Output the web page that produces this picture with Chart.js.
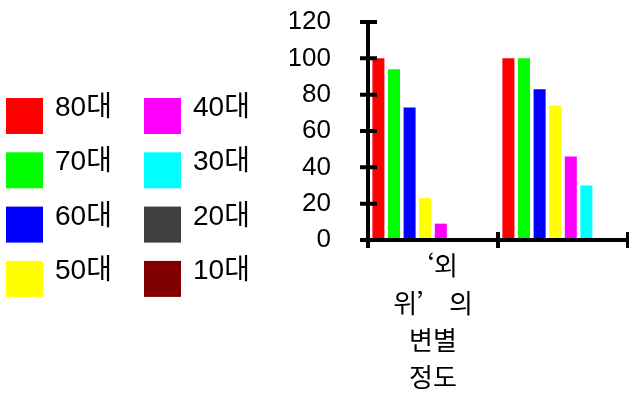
<!DOCTYPE html>
<html><head><meta charset="utf-8">
<script src="https://cdn.jsdelivr.net/npm/chart.js@4.4.0/dist/chart.umd.min.js"></script>
<style>html,body{margin:0;padding:0;background:#fff;overflow:hidden}#wrap{width:629px;height:398px;position:relative}</style>
</head><body><div id="wrap"><canvas id="c" width="629" height="398"></canvas></div>
<script>
const categories = [["‘외", "위’ 의", "변별", "정도"], ""];
const seriesNames = ["80대", "70대", "60대", "50대", "40대", "30대", "20대", "10대"];
const seriesColors = ["#FF0000", "#00FF00", "#0000FF", "#FFFF00", "#FF00FF", "#00FFFF", "#404040", "#800000"];
const v80 = [100, 100];
const v70 = [94, 100];
const v60 = [73, 83];
const v50 = [23, 74];
const v40 = [9, 46];
const v30 = [0, 30];
const v20 = [0, 0];
const v10 = [0, 0];
const yMin = 0, yMax = 120, yStep = 20;

const seriesValues = [v80, v70, v60, v50, v40, v30, v20, v10];

const axesPlugin = {
  id: 'axesDraw',
  afterDraw(chart) {
    const { ctx, chartArea: a, scales: { x, y } } = chart;
    ctx.save();
    ctx.strokeStyle = '#000';
    ctx.lineWidth = 4;
    ctx.lineCap = 'butt';
    const top = y.getPixelForValue(yMax);
    ctx.beginPath();
    ctx.moveTo(a.left, top - 2); ctx.lineTo(a.left, a.bottom + 8);
    ctx.moveTo(a.left - 2, a.bottom); ctx.lineTo(a.right + 2, a.bottom);
    y.ticks.forEach(t => {
      const p = y.getPixelForValue(t.value);
      ctx.moveTo(a.left - 8, p); ctx.lineTo(a.left + 9, p);
    });
    const n = chart.data.labels.length;
    for (let i = 1; i <= n; i++) {
      const xp = a.left + i * a.width / n;
      ctx.moveTo(xp, a.bottom - 8); ctx.lineTo(xp, a.bottom + 8);
    }
    ctx.stroke();
    ctx.restore();
  }
};

const legendPlugin = {
  id: 'sideLegend',
  afterDraw(chart) {
    const ctx = chart.ctx;
    ctx.save();
    ctx.font = "28px 'Liberation Sans', 'Noto Sans CJK KR'";
    ctx.textBaseline = 'alphabetic';
    ctx.textAlign = 'left';
    chart.data.datasets.forEach((ds, i) => {
      const col = Math.floor(i / 4), row = i % 4;
      const sx = 6 + col * 138, sy = 98 + row * 54.3;
      ctx.fillStyle = ds.backgroundColor;
      ctx.fillRect(sx, sy, 37, 36);
      ctx.fillStyle = '#000';
      ctx.fillText(ds.label, sx + 49, sy + 18);
    });
    ctx.restore();
  }
};

new Chart(document.getElementById('c'), {
  type: 'bar',
  data: {
    labels: categories,
    datasets: seriesNames.map((name, i) => ({
      label: name,
      data: seriesValues[i],
      backgroundColor: seriesColors[i],
      borderWidth: 0,
      barPercentage: 0.77,
      categoryPercentage: 0.96
    }))
  },
  options: {
    responsive: false,
    animation: false,
    maintainAspectRatio: false,
    layout: { padding: { left: 290, top: 22, right: 1, bottom: 0 } },
    plugins: { legend: { display: false }, tooltip: { enabled: false } },
    scales: {
      y: {
        min: yMin, max: yMax,
        ticks: { stepSize: yStep, autoSkip: false, color: '#000', padding: 29, font: { family: "'Liberation Sans'", size: 26 } },
        grid: { display: false },
        border: { display: false },
        afterFit(s) { s.width = 78; s.paddingTop = 0; s.paddingBottom = 0; }
      },
      x: {
        ticks: { color: '#000', padding: -1, maxRotation: 0, autoSkip: false, font: { family: "'Noto Sans CJK SC'", size: 26, lineHeight: 1.43 } },
        grid: { display: false },
        border: { display: false },
        afterFit(s) { s.height = 158; s.paddingLeft = 0; s.paddingRight = 0; }
      }
    }
  },
  plugins: [axesPlugin, legendPlugin]
});
</script></body></html>
